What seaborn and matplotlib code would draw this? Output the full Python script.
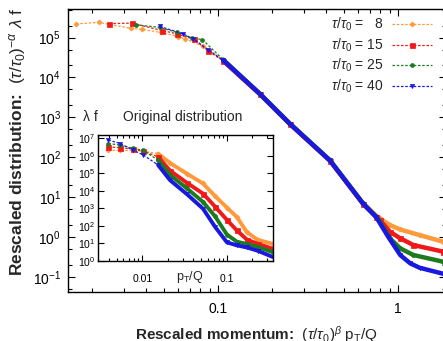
import matplotlib
matplotlib.use("Agg")
import numpy as np
import matplotlib.pyplot as plt
import seaborn as sns
from matplotlib.ticker import LogLocator, NullFormatter, FixedLocator, FixedFormatter, NullLocator

# --- data ---
TAU_LABELS = ["8", "15", "25", "40"]
COLORS = ["#ff9a3c", "#f01818", "#1e7a1e", "#1818e0"]
MARKERS = ["D", "s", "o", "v"]
MSIZES = [2.6, 3.6, 2.8, 3.0]

# main panel: rescaled momentum / rescaled distribution
main_x_8 = [0.0163, 0.0218, 0.033, 0.038, 0.048, 0.060, 0.066, 0.083, 0.107, 0.171, 0.251, 0.419, 0.64, 0.76, 0.794, 0.903, 1.03, 1.32, 1.79]
main_y_8 = [2.2e5, 2.4e5, 1.7e5, 1.6e5, 1.35e5, 1.06e5, 9.3e4, 6.0e4, 2.7e4, 3.9e3, 700, 84, 7.0, 3.4, 2.93, 2.0, 1.55, 1.12, 0.76]

main_x_15 = [0.0249, 0.0332, 0.049, 0.059, 0.074, 0.088, 0.107, 0.171, 0.251, 0.419, 0.64, 0.76, 0.794, 0.903, 1.03, 1.22, 1.79]
main_y_15 = [2.24e5, 2.3e5, 1.5e5, 1.25e5, 9.0e4, 4.7e4, 2.6e4, 3.8e3, 680, 82, 6.8, 3.2, 2.66, 1.36, 0.93, 0.63, 0.43]

main_x_25 = [0.0353, 0.0476, 0.059, 0.0714, 0.082, 0.107, 0.171, 0.251, 0.419, 0.64, 0.76, 0.794, 0.903, 1.03, 1.22, 1.79]
main_y_25 = [2.08e5, 1.8e5, 1.36e5, 9.8e4, 8.9e4, 2.8e4, 3.9e3, 700, 85, 7.0, 3.2, 2.4, 0.93, 0.52, 0.355, 0.24]

main_x_40 = [0.0476, 0.064, 0.073, 0.088, 0.107, 0.171, 0.251, 0.419, 0.64, 0.76, 0.883, 1.03, 1.17, 1.32, 1.79]
main_y_40 = [1.9e5, 1.24e5, 9.3e4, 5.0e4, 2.7e4, 3.9e3, 690, 83, 6.9, 3.1, 1.02, 0.355, 0.22, 0.17, 0.12]

# inset: original distribution, p_T/Q vs lambda f
inset_x = [0.00398, 0.00551, 0.00783, 0.0103, 0.0154, 0.0213, 0.0338, 0.0522, 0.0723, 0.100, 0.131, 0.172, 0.232, 0.348]
inset_y_8 = [2.0e6, 2.0e6, 2.0e6, 1.8e6, 1.3e6, 3.8e5, 9.3e4, 2.6e4, 5.0e3, 1.1e3, 320, 44, 16, 9.5]
inset_y_15 = [3.2e6, 2.8e6, 2.4e6, 1.8e6, 8.5e5, 1.4e5, 2.8e4, 6.9e3, 1.26e3, 220, 55, 16.6, 9.5, 5.0]
inset_y_25 = [4.9e6, 4.0e6, 2.6e6, 2.0e6, 5.5e5, 7.9e4, 1.35e4, 2.3e3, 355, 32, 12.6, 9.3, 6.3, 3.2]
inset_y_40 = [7.7e6, 4.9e6, 2.0e6, 1.1e6, 2.9e5, 4.0e4, 6.3e3, 950, 89, 11.5, 7.8, 5.9, 3.8, 1.7]

main_xs = [main_x_8, main_x_15, main_x_25, main_x_40]
main_ys = [main_y_8, main_y_15, main_y_25, main_y_40]
inset_ys = [inset_y_8, inset_y_15, inset_y_25, inset_y_40]

# --- style ---
sns.set_style("ticks")
plt.rcParams["font.family"] = ["Liberation Sans", "DejaVu Sans"]
plt.rcParams["mathtext.fontset"] = "custom"
plt.rcParams["mathtext.rm"] = "Liberation Sans"
plt.rcParams["mathtext.it"] = "Liberation Sans:italic"
plt.rcParams["mathtext.bf"] = "Liberation Sans:bold"

W, H = 443, 341
fig = plt.figure(figsize=(W / 100, H / 100), dpi=100)
ax = fig.add_axes([68 / W, 1 - 292 / H, (446 - 68) / W, (292 - 9) / H])
axin = fig.add_axes([98 / W, 1 - 261 / H, 175 / W, 126 / H])


def draw(a, x, y, i, dense_from, band_lw, label=None):
    x = np.asarray(x)
    y = np.asarray(y)
    c = COLORS[i]
    sns.lineplot(x=x, y=y, ax=a, color=c, linestyle=(0, (2, 1.4)), lw=0.9,
                 marker=MARKERS[i], ms=MSIZES[i], mec=c, mfc=c, mew=0.5,
                 label=label, legend=False)
    keep = x >= dense_from
    sns.lineplot(x=x[keep], y=y[keep], ax=a, color=c, lw=band_lw, legend=False)


for i in range(4):
    lab = r"$\tau/\tau_0$ = " + ("  " + TAU_LABELS[i] if len(TAU_LABELS[i]) == 1 else TAU_LABELS[i])
    draw(ax, main_xs[i], main_ys[i], i, 0.1, 3.2, label=lab)
    draw(axin, inset_x, inset_ys[i], i, 0.015, 2.8)

# --- main axes ---
ax.set_xscale("log")
ax.set_yscale("log")
ax.set_xlim(0.0147, 1.85)
ax.set_ylim(0.042, 5.2e5)
ax.xaxis.set_major_locator(FixedLocator([0.1, 1]))
ax.xaxis.set_major_formatter(FixedFormatter(["0.1", "1"]))
ax.xaxis.set_minor_locator(LogLocator(base=10, subs=np.arange(2, 10)))
ax.xaxis.set_minor_formatter(NullFormatter())
ax.yaxis.set_major_locator(LogLocator(base=10, numticks=20))
ax.yaxis.set_minor_locator(LogLocator(base=10, subs=(2, 5), numticks=20))
ax.yaxis.set_minor_formatter(NullFormatter())
ax.tick_params(which="both", direction="in", top=True, right=True, width=0.8, colors="black")
ax.tick_params(which="major", length=5, labelsize=10)
ax.tick_params(which="minor", length=3)
ax.tick_params(axis="x", which="major", pad=7)
ax.tick_params(axis="y", which="major", pad=5)
ax.set_xlabel("")
ax.set_ylabel("")
for s in ax.spines.values():
    s.set_linewidth(1.0)
    s.set_color("black")

handles, labels = ax.get_legend_handles_labels()
ax.legend(handles, labels,
          loc="upper right", bbox_to_anchor=(432 / W, 1 - 16 / H), bbox_transform=fig.transFigure,
          frameon=False, markerfirst=False, handlelength=2.9, handletextpad=0.6,
          labelspacing=0.22, fontsize=10, borderaxespad=0, borderpad=0)

# --- inset ---
axin.set_xscale("log")
axin.set_yscale("log")
axin.set_xlim(0.003, 0.35)
axin.set_ylim(1, 1.5e7)
axin.xaxis.set_major_locator(FixedLocator([0.01, 0.1]))
axin.xaxis.set_major_formatter(FixedFormatter(["0.01", "0.1"]))
axin.xaxis.set_minor_locator(LogLocator(base=10, subs=np.arange(2, 10)))
axin.xaxis.set_minor_formatter(NullFormatter())
axin.yaxis.set_major_locator(LogLocator(base=10, numticks=20))
axin.yaxis.set_minor_locator(NullLocator())
axin.tick_params(which="both", direction="in", top=True, right=True, width=0.8, colors="black")
axin.tick_params(which="major", length=4, labelsize=7.5)
axin.tick_params(which="minor", length=2.5)
axin.tick_params(axis="x", which="major", pad=9)
axin.tick_params(axis="y", which="major", pad=2)
axin.set_xlabel("")
axin.set_ylabel("")
for s in axin.spines.values():
    s.set_linewidth(1.0)
    s.set_color("black")

# --- texts ---
fig.text(18 / W, 1 - 142 / H,
         r"Rescaled distribution:  $(\tau/\tau_0)^{-\alpha}\ \lambda\ \mathrm{f}$",
         rotation=90, ha="center", va="center", fontsize=12.5, fontweight="bold")
fig.text(256 / W, 1 - 335 / H,
         r"Rescaled momentum:  $(\tau/\tau_0)^{\beta}\ \mathrm{p_T/Q}$",
         ha="center", va="center", fontsize=11, fontweight="bold")
fig.text(90 / W, 1 - 117 / H, "λ f", ha="center", va="center", fontsize=10)
fig.text(183 / W, 1 - 117 / H, "Original distribution", ha="center", va="center", fontsize=10)
fig.text(190 / W, 1 - 277 / H, r"$\mathrm{p_T/Q}$", ha="center", va="center", fontsize=9)

fig.savefig("out.png", dpi=100)
